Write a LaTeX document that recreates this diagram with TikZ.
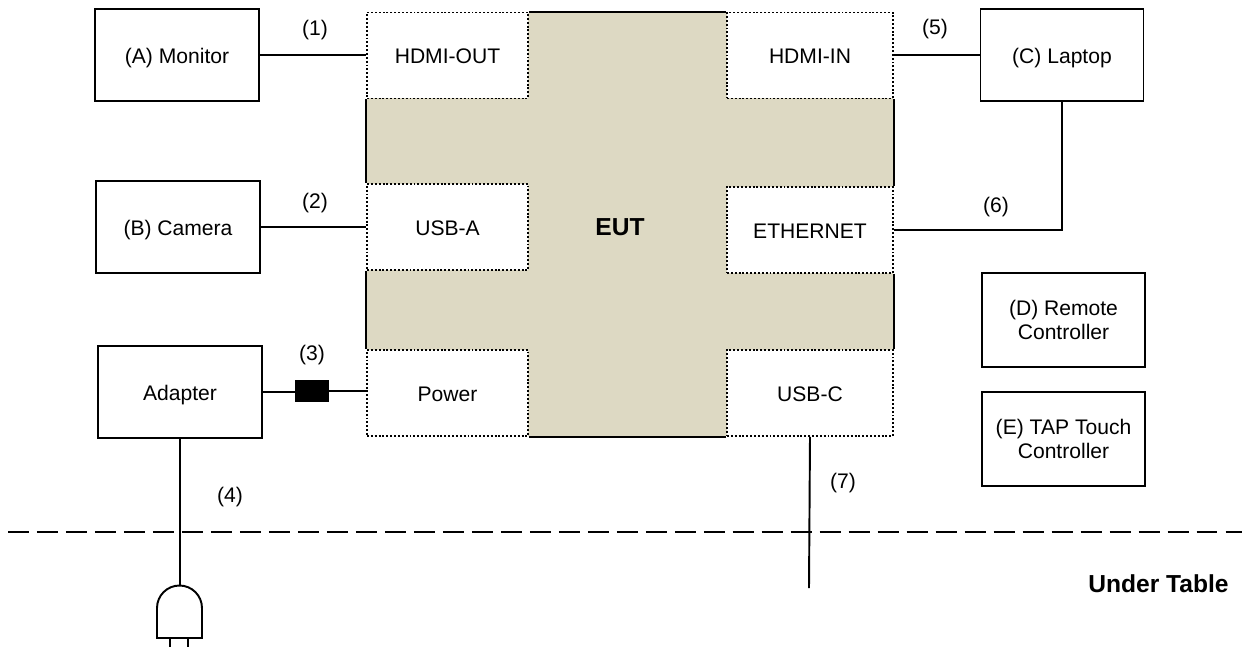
\documentclass[tikz,border=0pt]{standalone}
\usepackage{fontspec}
\setmainfont{Liberation Sans}
\definecolor{euttan}{RGB}{221,217,195}
\begin{document}
\begin{tikzpicture}[x=0.02cm,y=-0.02cm,
  every node/.style={font=\fontsize{12}{14}\selectfont},
  dev/.style={draw,line width=1.1pt,fill=white,inner sep=0pt,align=center,minimum width=3.28cm,minimum height=1.84cm},
  one/.style={text height=9.5pt,text depth=0pt},
  port/.style={draw,line width=1.1pt,dash pattern=on 1.1pt off 1.1pt,fill=white,inner sep=0pt,minimum height=1.72cm,one},
  wire/.style={line width=1.1pt},
  lbl/.style={inner sep=0pt},
  bold/.style={inner sep=0pt,font=\fontsize{14}{16}\selectfont\bfseries}]
\useasboundingbox (0,0) rectangle (1242,647);
% EUT body
\node[fill=euttan,inner sep=0pt,minimum width=10.52cm,minimum height=8.46cm] (eut) at (630,224.5) {};
\node[bold] (eutl) at (620,227) {EUT};
% ports
\node[port,minimum width=3.22cm] (hout) at (447.5,55.5) {HDMI-OUT};
\node[port,minimum width=3.32cm] (hin) at (810,55.5) {HDMI-IN};
\node[port,minimum width=3.22cm] (usba) at (447.5,227) {USB-A};
\node[port,minimum width=3.32cm] (eth) at (810,230) {ETHERNET};
\node[port,minimum width=3.22cm] (pwr) at (447.5,393) {Power};
\node[port,minimum width=3.32cm] (usbc) at (810,393) {USB-C};
% solid EUT border between ports
\draw[wire] (hout.north east) -- (hin.north west);
\draw[wire] (hout.south west) -- (usba.north west);
\draw[wire] (usba.south west) -- (pwr.north west);
\draw[wire] (pwr.south east) -- (usbc.south west);
\draw[wire] (hin.south east) -- (eth.north east);
\draw[wire] (eth.south east) -- (usbc.north east);
% devices
\node[dev,one] (mon) at (177,55) {(A) Monitor};
\node[dev,one] (cam) at (178,227) {(B) Camera};
\node[dev,one] (adp) at (180,392) {Adapter};
\node[dev,one,minimum width=3.26cm] (lap) at (1062,55) {(C) Laptop};
\node[dev,minimum width=3.26cm,minimum height=1.88cm] (rem) at (1063.5,320) {(D) Remote\\Controller};
\node[dev,minimum width=3.26cm,minimum height=1.88cm] (tap) at (1063.5,439) {(E) TAP Touch\\Controller};
% connector block
\node[fill=black,draw=black,inner sep=0pt,minimum width=0.66cm,minimum height=0.42cm] (blk) at (312,391) {};
% connections
\draw[wire] (mon.east) -- (mon.east -| hout.west);
\draw[wire] (cam.east) -- (cam.east -| usba.west);
\draw[wire] (adp.east) -- (adp.east -| blk.west);
\draw[wire] (blk.east) -- (blk.east -| pwr.west);
\draw[wire] (lap.west) -- (lap.west -| hin.east);
\draw[wire] (lap.south) |- (eth.east);
\coordinate (c7) at (809,588);
\draw[wire] (usbc.south) -- (c7);
\coordinate (plugtop) at (180,585.5);
\draw[wire] (adp.south) -- (plugtop);
% plug
\draw[wire] (157,638) -- (157,608) arc[start angle=180,end angle=0,radius=0.45cm] -- (202,638) -- cycle;
\draw[wire] (170,638) -- (170,647);
\draw[wire] (188,638) -- (188,647);
% table line
\coordinate (tl) at (8,532);
\coordinate (tr) at (1242,532);
\draw[line width=1.3pt,dash pattern=on 11.9pt off 4.6pt] (tl) -- (tr);
% labels
\node[lbl] (l1) at (315,30) {(1)};
\node[lbl] (l2) at (315,203) {(2)};
\node[lbl] (l3) at (312,355) {(3)};
\node[lbl] (l4) at (230,497) {(4)};
\node[lbl] (l5) at (935,29) {(5)};
\node[lbl] (l6) at (996,207) {(6)};
\node[lbl] (l7) at (843,483) {(7)};
\node[bold,anchor=east] (ut) at (1229,584) {Under Table};
\end{tikzpicture}
\end{document}
